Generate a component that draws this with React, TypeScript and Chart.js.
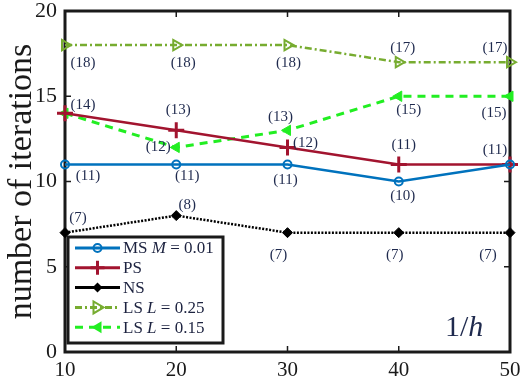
import React, { useEffect, useRef } from "react";
import { Chart, registerables } from "chart.js";

Chart.register(...registerables);

const xValues = [10, 20, 30, 40, 50];
const msValues = [11, 11, 11, 10, 11];
const psValues = [14, 13, 12, 11, 11];
const nsValues = [7, 8, 7, 7, 7];
const ls25Values = [18, 18, 18, 17, 17];
const ls15Values = [14, 12, 13, 15, 15];
const yTicks = [0, 5, 10, 15, 20];
const xTicks = [10, 20, 30, 40, 50];

const LABEL_COLOR = "#1f2a4e";
const SERIF = "'Liberation Serif', 'Times New Roman', serif";

// label offsets (dx, dy) per dataset / point; null = no label
const labelOffsets: (number[] | null)[][] = [
  [[23, 12], [11, 12], [-2, 16], [4, 15], null], // MS
  [null, [2, -20], [18, -4], [5, -19], [-15, -14]], // PS
  [[13, -15], [11, -11], [-9, 22], [-4, 22], [-22, 22]], // NS
  [[18, 18], [7, 18], [1, 18], [4, -14], [-15, -14]], // LS 0.25
  [[18, -8], [-18, 0], [-7, -13], [10, 14], [-16, 17]], // LS 0.15
];

function drawMarker(ctx: CanvasRenderingContext2D, kind: string, x: number, y: number, color: string) {
  ctx.save();
  ctx.strokeStyle = color;
  ctx.fillStyle = color;
  ctx.setLineDash([]);
  ctx.beginPath();
  if (kind === "circle") {
    ctx.lineWidth = 2;
    ctx.arc(x, y, 4, 0, Math.PI * 2);
    ctx.stroke();
  } else if (kind === "cross") {
    ctx.lineWidth = 3;
    ctx.moveTo(x - 7, y);
    ctx.lineTo(x + 7, y);
    ctx.moveTo(x, y - 7);
    ctx.lineTo(x, y + 7);
    ctx.stroke();
  } else if (kind === "diamond") {
    ctx.moveTo(x, y - 5);
    ctx.lineTo(x + 5, y);
    ctx.lineTo(x, y + 5);
    ctx.lineTo(x - 5, y);
    ctx.closePath();
    ctx.fill();
  } else if (kind === "right") {
    ctx.lineWidth = 2;
    ctx.moveTo(x + 6, y);
    ctx.lineTo(x - 4, y - 6);
    ctx.lineTo(x - 4, y + 6);
    ctx.closePath();
    ctx.stroke();
  } else if (kind === "left") {
    ctx.moveTo(x - 6, y);
    ctx.lineTo(x + 4, y - 6);
    ctx.lineTo(x + 4, y + 6);
    ctx.closePath();
    ctx.fill();
  }
  ctx.restore();
}

const legendItems = [
  { parts: [["MS ", false], ["M", true], [" = 0.01", false]], color: "#0072BD", dash: [] as number[], marker: "circle" },
  { parts: [["PS", false]], color: "#A2142F", dash: [] as number[], marker: "cross" },
  { parts: [["NS", false]], color: "#000000", dash: [] as number[], marker: "diamond" },
  { parts: [["LS ", false], ["L", true], [" = 0.25", false]], color: "#77AC30", dash: [7, 3, 2, 3], marker: "right" },
  { parts: [["LS ", false], ["L", true], [" = 0.15", false]], color: "#22ee22", dash: [8, 6], marker: "left" },
];

const decorPlugin = {
  id: "decor",
  beforeDatasetsDraw(chart: any) {
    const { ctx, chartArea, scales } = chart;
    const { left, right, top, bottom } = chartArea;
    ctx.save();
    ctx.strokeStyle = "#1a1a1a";
    ctx.lineWidth = 1.5;
    ctx.beginPath();
    const tl = 6;
    for (const v of [20, 30, 40]) {
      const x = scales.x.getPixelForValue(v);
      ctx.moveTo(x, bottom);
      ctx.lineTo(x, bottom - tl);
      ctx.moveTo(x, top);
      ctx.lineTo(x, top + tl);
    }
    for (const v of [5, 10, 15]) {
      const y = scales.y.getPixelForValue(v);
      ctx.moveTo(left, y);
      ctx.lineTo(left + tl, y);
      ctx.moveTo(right, y);
      ctx.lineTo(right - tl, y);
    }
    ctx.stroke();
    ctx.lineWidth = 3;
    ctx.strokeRect(left, top, right - left, bottom - top);
    ctx.restore();
  },
  afterDatasetsDraw(chart: any) {
    const { ctx, scales } = chart;
    ctx.save();
    ctx.fillStyle = LABEL_COLOR;
    ctx.font = `15px ${SERIF}`;
    ctx.textAlign = "center";
    ctx.textBaseline = "middle";
    chart.data.datasets.forEach((ds: any, di: number) => {
      ds.data.forEach((p: any, i: number) => {
        const off = labelOffsets[di][i];
        if (!off) return;
        const x = scales.x.getPixelForValue(p.x) + off[0];
        const y = scales.y.getPixelForValue(p.y) + off[1];
        ctx.fillText(`(${p.y})`, x, y);
      });
    });
    ctx.restore();
  },
  afterDraw(chart: any) {
    const { ctx, chartArea } = chart;
    const bx = chartArea.left + 3;
    const by = chartArea.bottom - 115;
    const bw = 155;
    const bh = 106;
    ctx.save();
    ctx.fillStyle = "#ffffff";
    ctx.fillRect(bx, by, bw, bh);
    ctx.strokeStyle = "#1a1a1a";
    ctx.lineWidth = 3;
    ctx.strokeRect(bx, by, bw, bh);
    legendItems.forEach((it, i) => {
      const y = by + 11 + i * 19.8;
      const x0 = bx + 7;
      const x1 = bx + 52;
      ctx.save();
      ctx.strokeStyle = it.color;
      ctx.lineWidth = 3;
      ctx.setLineDash(it.dash);
      ctx.beginPath();
      ctx.moveTo(x0, y);
      ctx.lineTo(x1, y);
      ctx.stroke();
      ctx.restore();
      drawMarker(ctx, it.marker, (x0 + x1) / 2, y, it.color);
      let tx = bx + 55;
      ctx.fillStyle = "#1d2340";
      ctx.textBaseline = "middle";
      ctx.textAlign = "left";
      for (const [t, ital] of it.parts as [string, boolean][]) {
        ctx.font = `${ital ? "italic " : ""}17px ${SERIF}`;
        ctx.fillText(t, tx, y + 1);
        tx += ctx.measureText(t).width;
      }
    });
    // 1/h label
    ctx.fillStyle = LABEL_COLOR;
    ctx.textBaseline = "alphabetic";
    ctx.textAlign = "left";
    ctx.font = `30px ${SERIF}`;
    let hx = chartArea.right - 65;
    const hy = chartArea.bottom - 16;
    ctx.fillText("1/", hx, hy);
    hx += ctx.measureText("1/").width;
    ctx.font = `italic 30px ${SERIF}`;
    ctx.fillText("h", hx, hy);
    ctx.restore();
  },
};

export default function App() {
  const ref = useRef<HTMLCanvasElement | null>(null);
  useEffect(() => {
    if (!ref.current) return;
    const mk = (vals: number[]) => vals.map((v, i) => ({ x: xValues[i], y: v }));
    const chart = new Chart(ref.current, {
      type: "line",
      data: {
        datasets: [
          {
            label: "MS M = 0.01",
            data: mk(msValues),
            borderColor: "#0072BD",
            backgroundColor: "rgba(0,0,0,0)",
            borderWidth: 2.5,
            pointStyle: "circle",
            pointRadius: 4,
            pointBorderWidth: 2,
            pointBackgroundColor: "rgba(0,0,0,0)",
          },
          {
            label: "PS",
            data: mk(psValues),
            borderColor: "#A2142F",
            backgroundColor: "#A2142F",
            borderWidth: 2.5,
            pointStyle: "cross",
            pointRadius: 8,
            pointBorderWidth: 3,
          },
          {
            label: "NS",
            data: mk(nsValues),
            borderColor: "#000000",
            backgroundColor: "#000000",
            borderWidth: 2.5,
            borderDash: [2, 1.5],
            pointStyle: "rectRot",
            pointRadius: 5,
            pointBorderWidth: 1,
          },
          {
            label: "LS L = 0.25",
            data: mk(ls25Values),
            borderColor: "#77AC30",
            backgroundColor: "rgba(0,0,0,0)",
            borderWidth: 2.5,
            borderDash: [7, 3, 2, 3],
            pointStyle: "triangle",
            pointRotation: 90,
            pointRadius: 6,
            pointBorderWidth: 2,
            pointBackgroundColor: "rgba(0,0,0,0)",
          },
          {
            label: "LS L = 0.15",
            data: mk(ls15Values),
            borderColor: "#22ee22",
            backgroundColor: "#22ee22",
            borderWidth: 3,
            borderDash: [8, 6],
            pointStyle: "triangle",
            pointRotation: -90,
            pointRadius: 6,
            pointBorderWidth: 1,
          },
        ],
      },
      options: {
        animation: false,
        responsive: false,
        maintainAspectRatio: false,
        clip: false as any,
        layout: { padding: { left: 0, top: 11, right: 11, bottom: 0 } },
        plugins: { legend: { display: false }, tooltip: { enabled: false } },
        scales: {
          x: {
            type: "linear",
            min: 10,
            max: 50,
            afterBuildTicks: (s: any) => {
              s.ticks = xTicks.map((v) => ({ value: v }));
            },
            afterFit: (s: any) => {
              s.height = 33;
              s.paddingLeft = 0;
              s.paddingRight = 0;
            },
            grid: { display: false, drawTicks: false },
            border: { display: false },
            ticks: { color: "#1a1a1a", font: { family: SERIF, size: 21 }, padding: 6, maxRotation: 0 },
          },
          y: {
            type: "linear",
            min: 0,
            max: 20,
            afterBuildTicks: (s: any) => {
              s.ticks = yTicks.map((v) => ({ value: v }));
            },
            afterFit: (s: any) => {
              s.width = 65;
              s.paddingTop = 0;
              s.paddingBottom = 0;
            },
            grid: { display: false, drawTicks: false },
            border: { display: false },
            ticks: { color: "#1a1a1a", font: { family: SERIF, size: 22 }, padding: 8 },
            title: {
              display: true,
              text: "number of iterations",
              color: "#1a1a1a",
              font: { family: SERIF, size: 34, lineHeight: 1.2 },
              padding: { top: 2, bottom: 0 },
            },
          },
        },
      },
      plugins: [decorPlugin],
    });
    return () => chart.destroy();
  }, []);
  return (
    <div style={{ position: "fixed", left: 0, top: 0, width: 521, height: 385, background: "#fff" }}>
      <canvas ref={ref} width={521} height={385} style={{ width: 521, height: 385, display: "block" }} />
    </div>
  );
}
